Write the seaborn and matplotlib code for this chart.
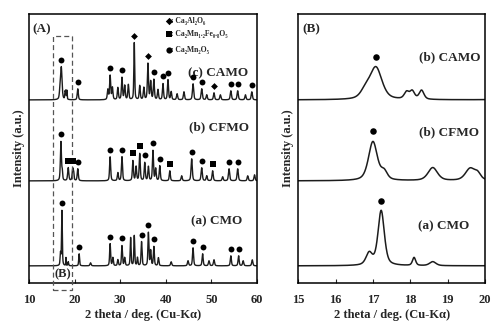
import numpy as np
import pandas as pd
import matplotlib
matplotlib.use("Agg")
from matplotlib import pyplot as plt
from matplotlib.patches import Rectangle
import seaborn as sns

# 読み取った XRD ピーク (位置 deg, 高さ a.u., 半値幅 deg)
camo_pos = [16.8, 17.08, 17.9, 18.05, 18.3, 20.7, 27.3, 27.8, 28.3, 29.5, 30.4, 31.0, 31.8, 33.1,
            34.3, 35.2, 36.1, 36.7, 37.4, 38.3, 39.4, 40.5, 41.2, 42.5, 44.0, 46.0, 47.9, 49.0,
            50.6, 52.0, 54.3, 55.8, 57.5, 58.9]
camo_hgt = [8, 32, 7, 8, 9, 11, 10, 24, 12, 12, 22, 14, 15, 57,
            14, 12, 36, 18, 20, 10, 16, 20, 8, 6, 8, 16, 11, 5,
            7, 5, 9, 9, 5, 8]
camo_fwhm = [0.3, 0.38, 0.15, 0.15, 0.15, 0.28, 0.28, 0.28, 0.28, 0.28, 0.28, 0.28, 0.28, 0.22,
             0.28, 0.28, 0.28, 0.28, 0.28, 0.28, 0.28, 0.28, 0.28, 0.3, 0.3, 0.32, 0.32, 0.3,
             0.3, 0.3, 0.32, 0.32, 0.3, 0.32]

cfmo_pos = [17.0, 17.3, 18.6, 19.6, 19.8, 20.7, 27.8, 29.5, 30.4, 32.8, 33.5, 34.3, 35.4, 36.2,
            37.2, 37.8, 38.7, 40.9, 43.5, 45.7, 47.9, 49.0, 50.3, 52.5, 53.9, 55.8, 58.0, 59.5]
cfmo_hgt = [39, 8, 13, 12, 6, 12, 24, 8, 24, 20, 14, 27, 18, 14,
            30, 12, 15, 10, 5, 22, 13, 5, 10, 4, 12, 12, 5, 6]
cfmo_fwhm = [0.28, 0.2, 0.3, 0.3, 0.2, 0.28, 0.28, 0.28, 0.28, 0.28, 0.28, 0.28, 0.28, 0.28,
             0.28, 0.28, 0.28, 0.28, 0.3, 0.32, 0.32, 0.3, 0.3, 0.3, 0.32, 0.32, 0.3, 0.3]

cmo_pos = [16.9, 17.22, 18.1, 18.6, 21.0, 23.5, 27.8, 28.4, 29.5, 30.4, 31.0, 32.3, 33.1, 33.8,
           34.7, 36.2, 36.7, 37.4, 38.4, 41.2, 44.9, 46.0, 48.1, 49.5, 50.6, 54.3, 56.0, 57.0, 59.0]
cmo_hgt = [12, 55, 8, 4, 12, 3, 22, 8, 6, 20, 8, 28, 30, 8,
           24, 33, 15, 19, 8, 4, 5, 18, 12, 5, 6, 10, 10, 5, 6]
cmo_fwhm = [0.2, 0.2, 0.1, 0.2, 0.22, 0.3, 0.25, 0.25, 0.25, 0.25, 0.25, 0.22, 0.22, 0.22,
            0.25, 0.25, 0.25, 0.25, 0.25, 0.3, 0.3, 0.28, 0.28, 0.3, 0.3, 0.28, 0.28, 0.3, 0.3]

# 縦のずらし量
offsets = {"CAMO": 183, "CFMO": 102, "CMO": 17}

# ピーク帰属マーカー (位置 deg)
camo_circle = [17.08, 20.7, 27.8, 30.4, 37.4, 39.4, 40.5, 46.0, 47.9, 54.3, 55.8, 58.9]
camo_diamond = [33.1, 36.1, 50.6]
cfmo_circle = [17.0, 20.7, 27.8, 30.4, 35.4, 37.2, 38.7, 45.7, 47.9, 53.9, 55.8]
cfmo_square = [18.6, 19.6, 32.8, 34.3, 40.9, 50.3]
cmo_circle = [17.22, 21.0, 27.8, 30.4, 34.7, 36.2, 37.4, 46.0, 48.1, 54.3, 56.0]

legend_labels = [": Ca₃Al₂O₆", ": Ca₂Mn₁.₂Fe₀.₈O₅", ": Ca₂Mn₂O₅"]


def profile(x, pos, hgt, fwhm):
    y = np.zeros_like(x)
    for p, h, w in zip(pos, hgt, fwhm):
        g = np.exp(-4 * np.log(2) * ((x - p) / w) ** 2)
        l = 1 / (1 + 4 * ((x - p) / w) ** 2)
        y += h * (0.5 * g + 0.5 * l)
    return y


samples = {
    "CAMO": (camo_pos, camo_hgt, camo_fwhm),
    "CFMO": (cfmo_pos, cfmo_hgt, cfmo_fwhm),
    "CMO": (cmo_pos, cmo_hgt, cmo_fwhm),
}

sns.set_theme(style="ticks")
plt.rcParams["font.family"] = ["Liberation Serif", "DejaVu Serif"]
plt.rcParams["font.weight"] = "bold"
plt.rcParams["axes.labelweight"] = "bold"

fig = plt.figure(figsize=(4.92, 3.24), dpi=100)
axA = fig.add_axes([0.059, 0.127, 0.463, 0.830])
axB = fig.add_axes([0.606, 0.127, 0.380, 0.830])

xa = np.linspace(10, 60, 5001)
xb = np.linspace(15, 20, 1001)

line_c = "#1c1c1c"
for name, (pos, hgt, fw) in samples.items():
    ya = profile(xa, pos, hgt, fw) + offsets[name]
    yb = profile(xb, pos, hgt, fw) + offsets[name]
    sns.lineplot(x=xa, y=ya, ax=axA, color=line_c, lw=1.0)
    sns.lineplot(x=xb, y=yb, ax=axB, color=line_c, lw=1.1)


def put_marks(ax, name, xs, marker, size, dy):
    pos, hgt, fw = samples[name]
    xs = np.array(xs)
    ys = profile(xs, pos, hgt, fw) + offsets[name] + dy
    ax.scatter(xs, ys, marker=marker, s=size, color="black", zorder=5, linewidths=0)


put_marks(axA, "CAMO", camo_circle, "o", 18, 7)
put_marks(axA, "CAMO", camo_diamond, "D", 12, 7)
put_marks(axA, "CFMO", cfmo_circle, "o", 18, 7)
put_marks(axA, "CFMO", cfmo_square, "s", 14, 7)
put_marks(axA, "CMO", cmo_circle, "o", 18, 7)

put_marks(axB, "CAMO", [17.08], "o", 22, 10)
put_marks(axB, "CFMO", [17.0], "o", 22, 10)
put_marks(axB, "CMO", [17.22], "o", 22, 9)

# 凡例
for yy, mk, sz, lab in zip([262, 249, 233], ["D", "s", "o"], [14, 16, 20], legend_labels):
    axA.scatter([40.7], [yy], marker=mk, s=sz, color="black", linewidths=0, zorder=5)
    axA.text(41.2, yy, lab, fontsize=5.5, va="center", ha="left", fontweight="bold")

# サンプル名
axA.text(51.4, 210, "(c) CAMO", fontsize=9.5, ha="center", va="center")
axA.text(51.6, 156, "(b) CFMO", fontsize=9.5, ha="center", va="center")
axA.text(51.2, 62, "(a) CMO", fontsize=9.5, ha="center", va="center")
axB.text(19.06, 226, "(b) CAMO", fontsize=9.5, ha="center", va="center")
axB.text(19.04, 151, "(b) CFMO", fontsize=9.5, ha="center", va="center")
axB.text(18.88, 57, "(a) CMO", fontsize=9.5, ha="center", va="center")

axA.text(0.015, 0.965, "(A)", transform=axA.transAxes, fontsize=9.5, ha="left", va="top")
axB.text(0.02, 0.965, "(B)", transform=axB.transAxes, fontsize=9.5, ha="left", va="top")

# 拡大範囲の点線枠
axA.add_patch(Rectangle((15.3, -7), 4.1, 254, fill=False, ls=(0, (4, 2.5)), lw=0.9,
                        edgecolor="#555555", clip_on=False, zorder=4))
axA.text(17.35, 9, "(B)", fontsize=9, ha="center", va="center")

for ax, lim, ticks in [(axA, (10, 60), range(10, 61, 10)), (axB, (15, 20), range(15, 21))]:
    ax.set_xlim(*lim)
    ax.set_ylim(0, 269)
    ax.set_xticks(list(ticks))
    ax.set_yticks([])
    ax.tick_params(axis="x", direction="in", length=3, width=0.8, labelsize=9, pad=8)
    for t in ax.get_xticklabels():
        t.set_fontweight("bold")
    for s in ax.spines.values():
        s.set_visible(True)
        s.set_linewidth(1.1)
        s.set_color("black")
    ax.set_xlabel("2 theta / deg. (Cu-Kα)", fontsize=9, labelpad=2)
    ax.set_ylabel("Intensity (a.u.)", fontsize=9, labelpad=3)

plt.savefig("out.png", dpi=100)
